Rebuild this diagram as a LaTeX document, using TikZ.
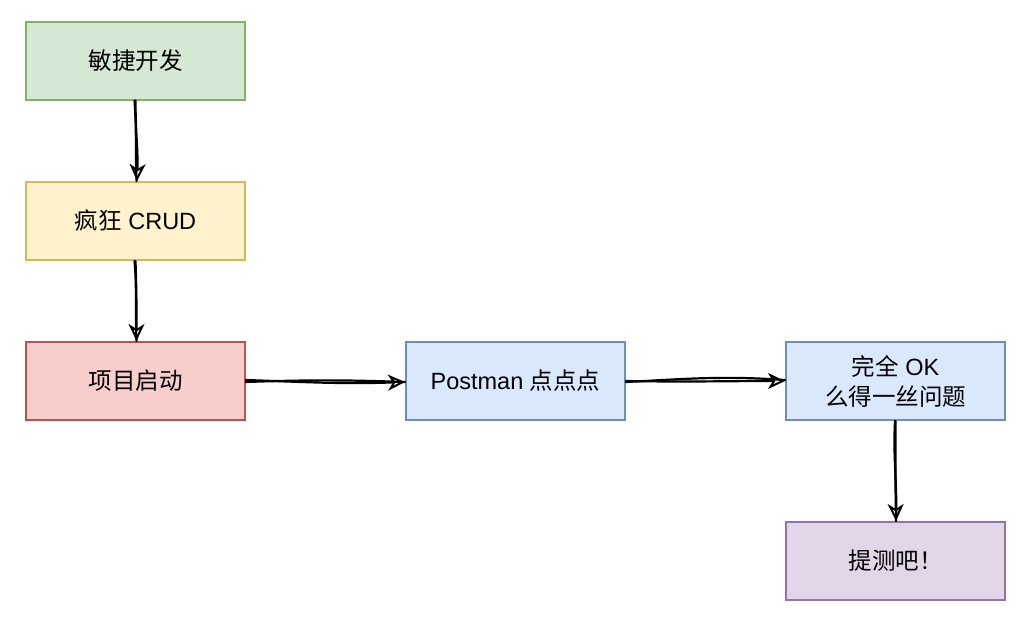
\documentclass[tikz,border=0pt]{standalone}
\usepackage{fontspec}
\setmainfont{Liberation Sans}
\newfontfamily\cjk{Noto Sans CJK SC}
\usetikzlibrary{arrows.meta}
\begin{document}
\begin{tikzpicture}[x=1pt,y=-1pt,
  box/.style={draw, line width=2pt, minimum width=219pt, minimum height=78pt, inner sep=0pt, font=\fontsize{23.5}{30}\selectfont, align=center},
  conn/.style={line width=2.2pt, black, line cap=round},
  tip/.style={conn, -{Stealth[open, length=17pt, width=16pt, inset=5pt, line width=2pt]}}]
\useasboundingbox (0,0) rectangle (1028,632);
\definecolor{gf}{HTML}{D5E8D4}\definecolor{gs}{HTML}{82B366}
\definecolor{yf}{HTML}{FFF2CC}\definecolor{ys}{HTML}{D6B656}
\definecolor{rf}{HTML}{F8CECC}\definecolor{rs}{HTML}{B85450}
\definecolor{bf}{HTML}{DAE8FC}\definecolor{bs}{HTML}{6C8EBF}
\definecolor{pf}{HTML}{E1D5E7}\definecolor{ps}{HTML}{9673A6}
\node[box, fill=gf, draw=gs] (a) at (135.5,60.5) {\cjk 敏捷开发};
\node[box, fill=yf, draw=ys] (b) at (135.5,221) {{\cjk 疯狂} CRUD};
\node[box, fill=rf, draw=rs] (c) at (135.5,381) {\cjk 项目启动};
\node[box, fill=bf, draw=bs] (d) at (515.5,381) {Postman {\cjk 点点点}};
\node[box, fill=bf, draw=bs] (e) at (895.5,381) {{\cjk 完全} OK\\{\cjk 么得一丝问题}};
\node[box, fill=pf, draw=ps] (f) at (895.5,561) {\cjk 提测吧！};
% a -> b
\draw[conn] ([xshift=-1pt]a.south) to[out=-86,in=92] ([xshift=1pt]b.north);
\draw[tip] ([xshift=0pt]a.south) to[out=-90,in=88] ([xshift=1.5pt]b.north);
% b -> c
\draw[conn] ([xshift=-1pt]b.south) to[out=-85,in=93] ([xshift=1pt]c.north);
\draw[tip] (b.south) to[out=-88,in=90] ([xshift=1pt]c.north);
% c -> d
\draw[conn] ([yshift=-1pt]c.east) to[out=2,in=178] ([yshift=-1pt]d.west);
\draw[tip] ([yshift=1pt]c.east) to[out=-2,in=182] ([yshift=-1pt]d.west);
% d -> e
\draw[conn] ([yshift=-1pt]d.east) to[out=3,in=176] ([yshift=1pt]e.west);
\draw[tip] ([yshift=0pt]d.east) to[out=-1,in=180] ([yshift=0pt]e.west);
% e -> f
\draw[conn] ([xshift=-0.5pt]e.south) to[out=-93,in=88] ([xshift=0.5pt]f.north);
\draw[tip] (e.south) to[out=-90,in=91] ([xshift=0.5pt]f.north);
\end{tikzpicture}
\end{document}
